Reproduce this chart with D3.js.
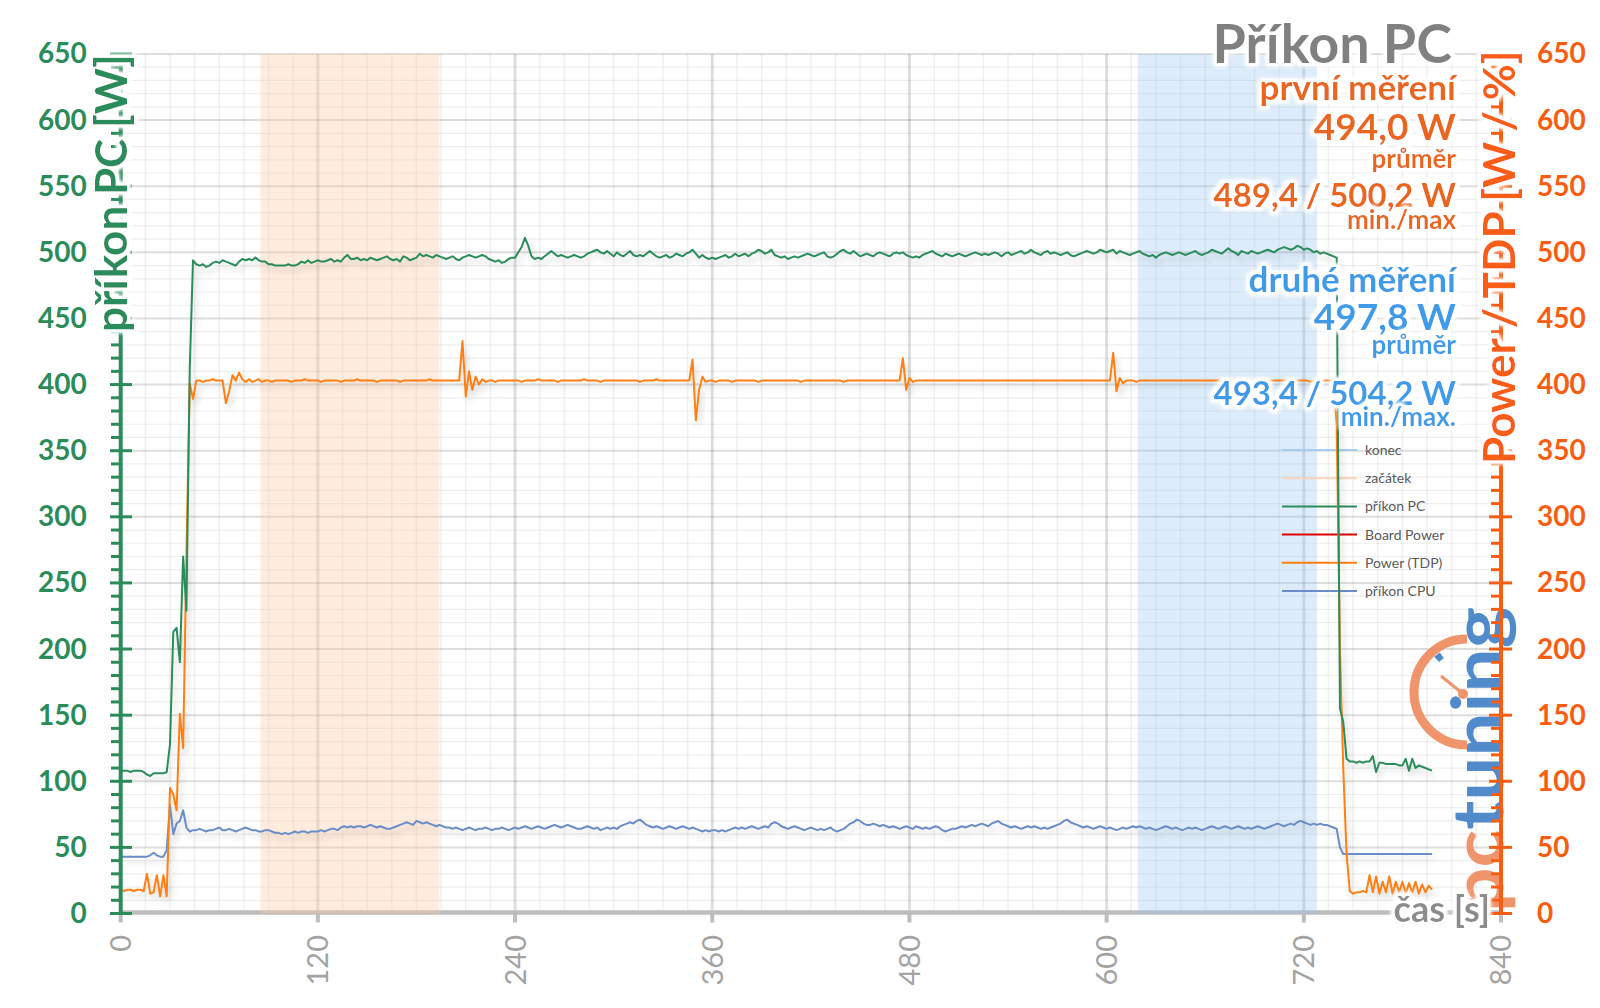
<!DOCTYPE html>
<html><head><meta charset="utf-8">
<script src="https://cdn.jsdelivr.net/npm/d3@7"></script>
<style>html,body{margin:0;padding:0;background:#fff;}svg{display:block;font-family:Lato,'Open Sans',sans-serif;}</style>
</head><body><svg id="c" width="1600" height="1008"></svg>
<script>
// ---------------- data ----------------
const seconds = d3.range(0, 800, 2); // sample times [s], one row below = 20 s
const pcPower = [
108,108,108,107,108,108,108,107,105,104,
106,106,106,106,107,128,213,216,190,270,
229,411,494,491,490,491,489,490,492,493,
492,494,493,492,491,490,493,495,494,495,
494,496,494,493,493,491,491,490,490,490,
490,491,490,490,491,493,492,494,492,493,
494,493,493,494,495,493,494,493,496,498,
495,495,496,494,495,494,496,495,494,495,
496,497,495,494,495,493,497,496,494,495,
496,499,497,498,497,496,498,497,496,495,
496,497,495,494,496,497,498,497,496,497,
498,497,495,494,493,494,492,493,495,496,
496,500,504,511,505,497,495,496,495,497,
499,501,499,497,498,497,496,497,498,497,
496,497,499,500,501,502,500,499,501,499,
497,500,498,497,499,501,498,497,498,497,
499,501,499,497,496,497,498,496,497,499,
498,497,499,500,502,499,496,498,496,495,
496,495,496,497,498,496,497,499,497,498,
499,497,499,500,502,501,499,500,502,498,
497,496,497,495,496,497,496,497,498,499,
498,497,498,499,500,497,496,497,499,501,
502,500,499,501,499,497,498,499,498,497,
499,500,499,498,497,499,500,499,500,498,
497,496,497,496,498,499,500,501,499,498,
497,499,498,497,498,499,498,497,498,499,
500,499,498,499,498,499,500,499,497,499,
500,498,499,500,501,499,500,502,500,499,
498,500,501,499,500,499,498,499,500,498,
497,498,499,500,501,500,499,500,502,501,
500,501,502,499,501,500,499,498,499,500,
501,499,498,497,498,496,498,499,500,499,
498,499,500,499,498,499,500,501,499,498,
499,500,502,501,500,499,501,503,501,500,
498,501,500,499,501,500,499,500,501,502,
501,500,502,503,504,503,502,503,505,504,
502,503,502,500,501,499,500,499,498,497,
496,155,145,117,115,115,114,115,114,115,
115,119,107,114,114,113,113,113,113,112,
112,117,108,117,110,112,111,110,109,108];
const tdpPower = [
18,17,18,18,17,18,18,17,30,15,
16,29,13,29,13,95,90,78,151,125,
270,401,389,403,403,402,403,403,404,403,
403,403,386,395,407,403,409,404,402,404,
402,403,404,402,403,403,402,403,403,403,
403,403,402,403,403,403,404,403,403,403,
403,402,403,403,403,403,403,402,403,403,
403,403,404,403,403,403,403,403,402,403,
403,403,403,403,403,402,403,403,403,403,
403,403,403,403,404,403,403,403,403,403,
403,403,403,403,433,391,410,396,406,400,
404,402,403,403,402,403,403,403,403,403,
403,403,402,403,403,403,403,404,403,403,
403,403,403,402,403,403,403,403,403,403,
403,404,403,403,403,403,402,403,403,403,
403,403,403,403,403,403,403,403,402,403,
403,403,403,404,403,403,403,403,403,403,
403,403,403,403,419,373,396,406,402,403,
403,402,403,403,403,403,402,403,403,403,
403,403,403,403,402,403,403,403,403,403,
403,403,403,403,403,403,403,402,403,403,
403,403,403,403,403,403,403,403,403,403,
402,403,403,403,403,403,403,403,403,403,
403,403,403,403,403,403,403,403,420,396,
405,402,403,403,403,403,403,403,403,403,
403,403,403,403,403,403,403,403,403,403,
403,403,403,403,403,403,403,403,403,403,
403,403,403,403,403,403,403,403,403,403,
403,403,403,403,403,403,403,403,403,403,
403,403,403,403,403,403,403,403,403,403,
403,403,424,395,405,401,403,403,403,402,
403,403,403,403,403,403,403,403,403,403,
403,403,403,403,403,403,403,403,403,403,
403,403,403,403,403,403,403,403,403,403,
403,403,403,403,403,403,403,403,403,403,
403,403,403,403,403,403,403,403,403,403,
403,403,402,403,403,403,403,403,403,402,
370,200,110,45,17,15,16,16,17,16,
29,16,28,15,24,16,28,15,24,16,
24,15,23,16,24,15,22,16,21,18];
const cpuPower = [
43,43,43,43,43,43,43,43,43,44,
46,44,43,43,48,82,60,68,70,78,
65,62,63,63,64,63,62,63,63,64,
65,63,63,64,63,62,63,64,65,64,
63,63,62,62,63,63,62,61,61,60,
61,60,61,62,61,62,62,61,62,62,
62,63,62,63,64,64,63,65,66,65,
66,65,66,66,65,66,67,66,65,66,
65,64,64,65,66,67,68,69,68,67,
70,69,68,69,68,67,66,67,66,65,
65,64,65,64,63,64,65,64,63,64,
64,65,64,63,64,64,65,64,63,64,
65,64,65,66,65,64,65,66,65,64,
65,66,67,66,65,66,67,66,65,64,
64,65,66,65,64,65,63,64,65,64,
65,64,66,67,68,69,68,70,71,69,
67,66,65,66,65,64,65,66,65,64,
65,66,65,64,65,64,63,62,63,62,
63,63,62,63,62,63,64,65,64,65,
64,65,66,65,64,65,66,65,68,69,
68,66,65,64,65,66,65,64,63,64,
65,64,63,64,63,64,65,63,62,63,
64,66,68,69,71,70,68,67,67,68,
67,66,67,66,65,66,65,64,65,66,
65,64,66,65,64,65,64,65,66,65,
63,62,63,64,64,65,66,65,66,67,
66,67,68,67,66,68,69,70,68,67,
66,65,66,65,64,65,66,65,66,65,
64,65,64,65,66,67,68,70,71,69,
68,67,66,65,66,65,64,65,66,65,
64,65,64,63,64,65,64,65,66,65,
66,65,64,65,64,63,64,65,66,65,
64,65,64,63,64,65,64,65,64,63,
64,65,66,65,64,65,66,65,64,65,
66,65,64,65,64,65,66,65,64,65,
66,67,68,67,66,67,68,67,69,70,
69,68,67,68,67,68,67,67,66,65,
64,50,45,45,45,45,45,45,45,45,
45,45,45,45,45,45,45,45,45,45,
45,45,45,45,45,45,45,45,45,45];
const boardPower = []; // listed in legend only, no visible samples
const startBand = [85, 194];   // "začátek"
const endBand = [619, 728];    // "konec"
const yTicks = d3.range(0, 651, 50);
const xTicks = d3.range(0, 841, 120);
const legendNames = ["konec", "začátek", "příkon PC", "Board Power", "Power (TDP)", "příkon CPU"];
const titleText = "Příkon PC";
const noteTexts = ["první měření", "494,0 W", "průměr", "489,4 / 500,2 W", "min./max",
                   "druhé měření", "497,8 W", "průměr", "493,4 / 504,2 W", "min./max."];
const leftTitle = "příkon PC [W]";
const rightTitle = "Power / TDP [W / %]";
const xTitle = "čas [s]";

// ---------------- styles / layout ----------------
const C = {green:"#2b8c5a", orange:"#f95d12", tdp:"#ff7f12", cpu:"#6a8cc8", red:"#e00000",
  noteOrange:"#e9661a", noteBlue:"#3d9be9", gray:"#808080", bandO:"rgb(251,200,160)", bandB:"rgb(150,195,240)",
  legO:"#f8d5bd", legB:"#a9cdef"};
const svg = d3.select("#c");
const x = d3.scaleLinear().domain([0, 840]).range([120.7, 1501]);
const y = d3.scaleLinear().domain([0, 650]).range([913.5, 54]);

const defs = svg.append("defs");
const glow = defs.append("filter").attr("id","glow").attr("x","-15%").attr("y","-40%").attr("width","130%").attr("height","180%");
glow.append("feMorphology").attr("in","SourceAlpha").attr("operator","dilate").attr("radius",2.5).attr("result","d");
glow.append("feGaussianBlur").attr("in","d").attr("stdDeviation",2).attr("result","b");
glow.append("feComponentTransfer").attr("in","b").attr("result","b2").append("feFuncA").attr("type","linear").attr("slope",1.6);
glow.append("feFlood").attr("flood-color","#fff");
glow.append("feComposite").attr("in2","b2").attr("operator","in").attr("result","g");
const gm = glow.append("feMerge"); gm.append("feMergeNode").attr("in","g"); gm.append("feMergeNode").attr("in","SourceGraphic");
const sh = defs.append("filter").attr("id","shadow").attr("x","-5%").attr("y","-5%").attr("width","110%").attr("height","120%");
sh.append("feDropShadow").attr("dx",3).attr("dy",5).attr("stdDeviation",3).attr("flood-color","#000").attr("flood-opacity",0.16);

// grid
const grid = svg.append("g");
const x0 = x(0), x1 = x(840), y0 = y(0), y1 = y(650);
d3.range(0, 651, 10).filter(v => v % 50 !== 0).forEach(v =>
  grid.append("line").attr("x1",x0).attr("x2",x1).attr("y1",y(v)).attr("y2",y(v)).attr("stroke","rgba(0,0,0,0.065)").attr("stroke-width",1.2));
d3.range(15, 840, 15).filter(v => v % 120 !== 0).forEach(v =>
  grid.append("line").attr("x1",x(v)).attr("x2",x(v)).attr("y1",y0).attr("y2",y1).attr("stroke","rgba(0,0,0,0.06)").attr("stroke-width",1.5));
yTicks.filter(v => v > 0).forEach(v =>
  grid.append("line").attr("x1",x0).attr("x2",x1).attr("y1",y(v)).attr("y2",y(v)).attr("stroke","rgba(0,0,0,0.13)").attr("stroke-width",2));
xTicks.filter(v => v > 0 && v < 840).forEach(v =>
  grid.append("line").attr("x1",x(v)).attr("x2",x(v)).attr("y1",y0).attr("y2",y1).attr("stroke","rgba(0,0,0,0.13)").attr("stroke-width",3));

// bottom axis
const xa = svg.append("g");
xa.append("line").attr("x1",x0).attr("x2",x1).attr("y1",y0-1).attr("y2",y0-1).attr("stroke","#bdbdbd").attr("stroke-width",4.5);
xTicks.forEach(v => xa.append("line").attr("x1",x(v)).attr("x2",x(v)).attr("y1",y0).attr("y2",y0+9).attr("stroke","#bdbdbd").attr("stroke-width",4));
xTicks.forEach(v => xa.append("text").attr("transform",`translate(${x(v)},935) rotate(-90)`).attr("dy","0.36em")
  .attr("text-anchor","end").attr("font-size",29).attr("fill","#a3a3a3").text(v));

// bands
svg.append("rect").attr("x",x(startBand[0])).attr("width",x(startBand[1])-x(startBand[0])).attr("y",y1).attr("height",y0-y1)
  .attr("fill",C.bandO).attr("opacity",0.35);
svg.append("rect").attr("x",x(endBand[0])).attr("width",x(endBand[1])-x(endBand[0])).attr("y",y1).attr("height",y0-y1)
  .attr("fill",C.bandB).attr("opacity",0.32);

// logo
const logo = svg.append("g").attr("opacity",0.9);
logo.append("path").attr("d","M1467,639 A53,53 0 0,0 1467,745").attr("fill","none").attr("stroke","#ef8a5c").attr("stroke-width",9);
logo.append("path").attr("d", d3.arc()({innerRadius:41,outerRadius:48,startAngle:-0.75,endAngle:-0.6})).attr("transform","translate(1467,692)").attr("fill","#3f7fc6");
logo.append("line").attr("x1",1441).attr("y1",676).attr("x2",1462).attr("y2",693).attr("stroke","#ef8a5c").attr("stroke-width",3);
logo.append("circle").attr("cx",1463).attr("cy",694).attr("r",5).attr("fill","#ef8a5c");
const lt = logo.append("text").attr("transform","translate(1503,912) rotate(-90)").attr("font-size",70).attr("font-weight",700)
  .attr("textLength",305).attr("lengthAdjust","spacingAndGlyphs");
lt.append("tspan").attr("fill","#ef8a5c").text("pc");
lt.append("tspan").attr("fill","#3f7fc6").text("tuning");

// legend (drawn under the series)
const legColors = [C.legB, C.legO, C.green, C.red, C.tdp, C.cpu];
legendNames.forEach((n, i) => {
  const yy = 450 + i * 28.2;
  svg.append("line").attr("x1",1282).attr("x2",1357).attr("y1",yy).attr("y2",yy).attr("stroke",legColors[i]).attr("stroke-width",2);
  svg.append("text").attr("x",1365).attr("y",yy).attr("dy","0.35em").attr("font-size",14).attr("fill","#595959").text(n);
});

// series
const line = d3.line().x((d, i) => x(seconds[i])).y(d => y(d));
const sg = svg.append("g").attr("filter","url(#shadow)");
sg.append("path").attr("d", line(cpuPower)).attr("fill","none").attr("stroke",C.cpu).attr("stroke-width",2).attr("stroke-linejoin","round");
sg.append("path").attr("d", line(tdpPower)).attr("fill","none").attr("stroke",C.tdp).attr("stroke-width",2).attr("stroke-linejoin","round");
if (boardPower.length) sg.append("path").attr("d", line(boardPower)).attr("fill","none").attr("stroke",C.red).attr("stroke-width",2);
sg.append("path").attr("d", line(pcPower)).attr("fill","none").attr("stroke",C.green).attr("stroke-width",2).attr("stroke-linejoin","round");

// left axis
const la = svg.append("g");
la.append("line").attr("x1",x0).attr("x2",x0).attr("y1",y1).attr("y2",y0).attr("stroke",C.green).attr("stroke-width",4);
d3.range(0, 651, 10).filter(v => v % 50 !== 0).forEach(v =>
  la.append("line").attr("x1",111).attr("x2",x0).attr("y1",y(v)).attr("y2",y(v)).attr("stroke",C.green).attr("stroke-width",3));
yTicks.forEach(v => la.append("line").attr("x1",110).attr("x2",132).attr("y1",y(v)).attr("y2",y(v)).attr("stroke",C.green).attr("stroke-width",3));
svg.append("g").attr("transform",`translate(${x0},0)`)
  .call(d3.axisLeft(y).tickValues(yTicks).tickSize(0).tickPadding(34))
  .call(g => g.select(".domain").remove())
  .selectAll("text").attr("font-size",28).attr("font-weight",700).attr("fill",C.green).attr("font-family","Lato,'Open Sans',sans-serif");

// right axis
const ra = svg.append("g");
ra.append("line").attr("x1",x1).attr("x2",x1).attr("y1",y1).attr("y2",y0).attr("stroke",C.orange).attr("stroke-width",4);
d3.range(0, 651, 10).filter(v => v % 50 !== 0).forEach(v =>
  ra.append("line").attr("x1",1491).attr("x2",x1).attr("y1",y(v)).attr("y2",y(v)).attr("stroke",C.orange).attr("stroke-width",3));
yTicks.forEach(v => ra.append("line").attr("x1",1489).attr("x2",1512).attr("y1",y(v)).attr("y2",y(v)).attr("stroke",C.orange).attr("stroke-width",3));
svg.append("g").attr("transform",`translate(${x1},0)`)
  .call(d3.axisRight(y).tickValues(yTicks).tickSize(0).tickPadding(36))
  .call(g => g.select(".domain").remove())
  .selectAll("text").attr("font-size",28).attr("font-weight",700).attr("fill",C.orange).attr("font-family","Lato,'Open Sans',sans-serif");

// axis titles
svg.append("text").attr("transform","translate(127,332) rotate(-90)").attr("font-size",44).attr("font-weight",700)
  .attr("fill",C.green).attr("filter","url(#glow)").text(leftTitle);
svg.append("text").attr("transform","translate(1515,464) rotate(-90)").attr("font-size",44).attr("font-weight",700)
  .attr("fill",C.orange).attr("filter","url(#glow)").text(rightTitle);
svg.append("text").attr("x",1490).attr("y",922).attr("text-anchor","end").attr("font-size",36).attr("font-weight",700)
  .attr("fill","#8c8c8c").attr("filter","url(#glow)").text(xTitle);

// title + notes
svg.append("text").attr("x",1452).attr("y",63).attr("text-anchor","end").attr("font-size",54).attr("font-weight",700)
  .attr("fill",C.gray).attr("filter","url(#glow)").text(titleText);
const noteY = [100,140,168,207,229,292,330,354,405,426];
const noteSize = [35,37,26,33,26,35,37,26,33,26];
noteTexts.forEach((t, i) => svg.append("text").attr("x",1456).attr("y",noteY[i]).attr("text-anchor","end")
  .attr("font-size",noteSize[i]).attr("font-weight",700).attr("fill", i < 5 ? C.noteOrange : C.noteBlue)
  .attr("filter","url(#glow)").text(t));
</script></body></html>
